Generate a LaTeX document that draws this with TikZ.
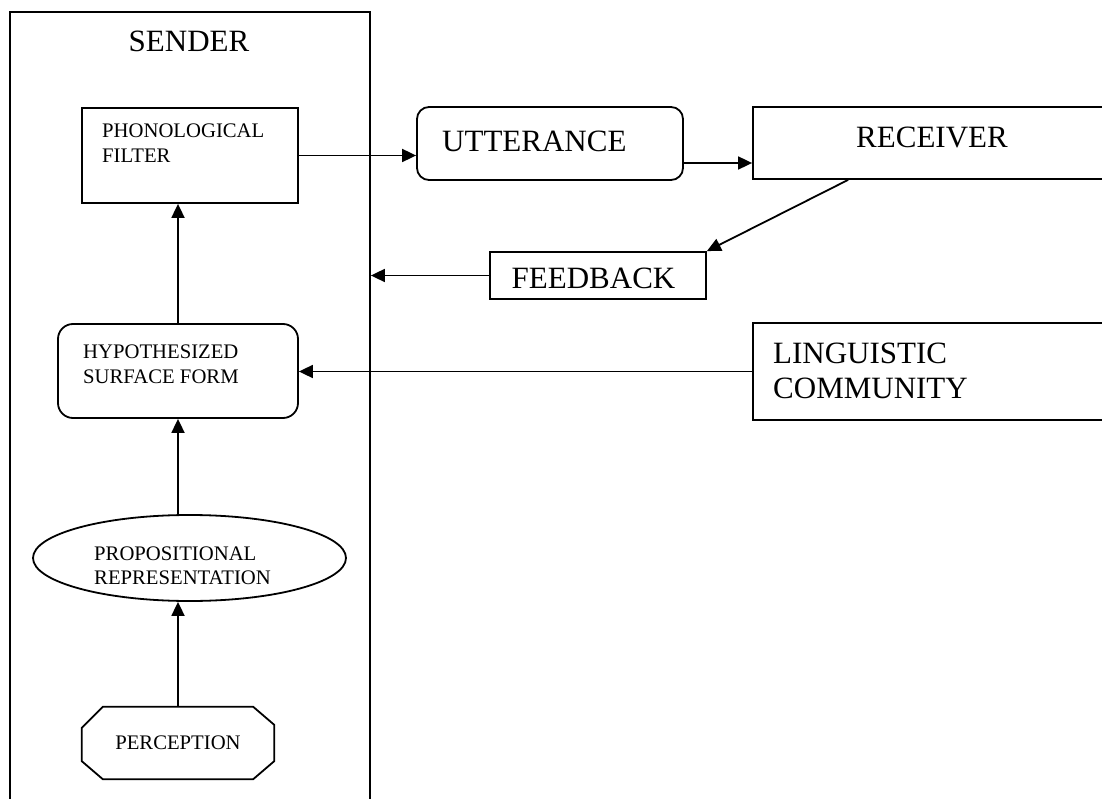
\documentclass[tikz,border=0pt]{standalone}
\usepackage{fontspec}
\setmainfont{Liberation Serif}
\usetikzlibrary{arrows.meta,shapes.geometric}
\tikzset{
  box/.style={draw, line width=1.8pt, inner sep=0pt, minimum width=#1},
  big/.style={font=\fontsize{31}{36}\selectfont, inner sep=0pt},
  small/.style={font=\fontsize{20.7}{25}\selectfont, inner sep=0pt},
  conn/.style={line width=1.8pt, -{Triangle[length=14pt,width=13pt]}},
}
\begin{document}
\begin{tikzpicture}[x=1pt,y=-1pt]
\clip (0,0) rectangle (1102,799);
\fill[white] (0,0) rectangle (1102,799);
% sender frame
\node[box=360pt, minimum height=810pt] (sender) at (190,417) {};
\node[big, anchor=base] (sendert) at (189,52) {SENDER};
% phonological filter
\node[box=216pt, minimum height=95pt] (phono) at (190,155.5) {};
\node[small, anchor=base west] (phonot1) at (102,138) {PHONOLOGICAL};
\node[small, anchor=base west] (phonot2) at (102,163) {FILTER};
% utterance
\node[box=266pt, minimum height=73pt, rounded corners=12pt] (utt) at (550,143.5) {};
\node[big, anchor=base west] (uttt) at (442,152) {UTTERANCE};
% receiver
\node[box=358pt, minimum height=72pt] (rec) at (932,143) {};
\node[big, anchor=base] (rect) at (932,148) {RECEIVER};
% feedback
\node[box=216pt, minimum height=47pt] (fb) at (598,275.5) {};
\node[big, anchor=base] (fbt) at (593.5,289) {FEEDBACK};
% linguistic community
\node[box=358pt, minimum height=97pt] (ling) at (932,371.5) {};
\node[big, anchor=base west] (lingt1) at (773,363) {LINGUISTIC};
\node[big, anchor=base west] (lingt2) at (773,398) {COMMUNITY};
% hypothesized surface form
\node[box=240pt, minimum height=94pt, rounded corners=15pt] (hyp) at (178,371) {};
\node[small, anchor=base west] (hypt1) at (83,358) {HYPOTHESIZED};
\node[small, anchor=base west] (hypt2) at (83,383) {SURFACE FORM};
% propositional representation
\node[box=313pt, ellipse, minimum height=86pt] (prop) at (189.5,558) {};
\node[small, anchor=base west] (propt1) at (94,560.5) {PROPOSITIONAL};
\node[small, anchor=base west] (propt2) at (94,584) {REPRESENTATION};
% perception (octagon)
\node[small, minimum width=192pt, minimum height=72pt] (perc) at (178,743) {PERCEPTION};
\draw[line width=1.8pt, line join=miter]
  ([xshift=21pt]perc.north west) -- ([xshift=-21pt]perc.north east)
  -- ([yshift=-18pt]perc.north east) -- ([yshift=18pt]perc.south east)
  -- ([xshift=-21pt]perc.south east) -- ([xshift=21pt]perc.south west)
  -- ([yshift=18pt]perc.south west) -- ([yshift=-21pt]perc.north west) -- cycle;
% connectors
\draw[conn] (phono.east) -- (phono.east -| utt.west);
\draw[conn] ([yshift=-19.5pt]utt.east) -- ([yshift=-19.5pt]utt.east -| rec.west);
\draw[conn] ([xshift=96pt]rec.south west) -- (fb.north east);
\draw[conn] (fb.west) -- (fb.west -| sender.east);
\draw[conn] (ling.west) -- (ling.west -| hyp.east);
\draw[conn] (hyp.north) -- (hyp.north |- phono.south);
\draw[conn] (hyp.south |- prop.north) -- (hyp.south);
\draw[conn] (perc.north) -- (perc.north |- prop.south);
\end{tikzpicture}
\end{document}
